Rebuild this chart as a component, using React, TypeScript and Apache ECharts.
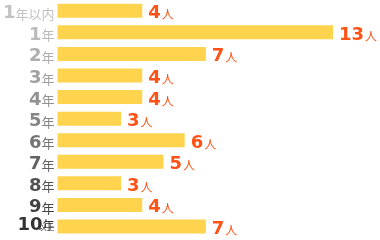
import React, { useEffect, useRef } from "react";
import * as echarts from "echarts";

const categories = ["1年以内", "1年", "2年", "3年", "4年", "5年", "6年", "7年", "8年", "9年", "10年以上"];
const values = [4, 13, 7, 4, 4, 3, 6, 5, 3, 4, 7];
const unitLabel = "人";
const labelColors = ["#c2c2c2", "#bbbbbb", "#adadad", "#a0a0a0", "#929292", "#858585", "#747474", "#636363", "#525252", "#424242", "#333333"];

const DIGIT_FONT = "'DejaVu Sans', Verdana, sans-serif";
const CJK_FONT = "'Noto Sans CJK JP', sans-serif";

export default function App() {
  const ref = useRef<HTMLDivElement>(null);
  useEffect(() => {
    if (!ref.current) return;
    const chart = echarts.init(ref.current, undefined, { renderer: "svg" });
    const last = labelColors.length - 1;
    const rich: Record<string, any> = {
      sp: { fontSize: 1, lineHeight: 6 },
    };
    labelColors.forEach((c, i) => {
      if (i === last) {
        rich["n" + i] = { fontFamily: DIGIT_FONT, fontWeight: "bold", fontSize: 18, color: c, lineHeight: 20 };
        rich["u" + i] = { fontFamily: CJK_FONT, fontSize: 12, color: c, lineHeight: 14, padding: [4, 0, 2, 0] };
      } else {
        rich["n" + i] = { fontFamily: DIGIT_FONT, fontWeight: "bold", fontSize: 18, color: c, lineHeight: 20, verticalAlign: "bottom" };
        rich["u" + i] = { fontFamily: CJK_FONT, fontSize: 13, color: c, lineHeight: 20, verticalAlign: "bottom", padding: [0, 0, 1, 0] };
      }
    });
    const split = (v: string) => {
      const m = v.match(/^(\d+)(.*)$/);
      if (!m) return { num: "", unit: v, extra: "" };
      let unit = m[2];
      let extra = "";
      if (unit.endsWith("以上")) {
        unit = unit.slice(0, -2);
        extra = "以上";
      }
      return { num: m[1], unit, extra };
    };
    chart.setOption({
      animation: false,
      grid: { left: 54, right: 47, top: -1, height: 238.3, containLabel: false },
      xAxis: { type: "value", min: 0, max: 13, show: false },
      yAxis: [
        {
          type: "category",
          data: categories,
          inverse: true,
          axisLine: { show: false },
          axisTick: { show: false },
          axisLabel: {
            margin: 3,
            interval: 0,
            hideOverlap: false,
            formatter: (v: string, i: number) => {
              const { num, unit, extra } = split(v);
              const main = `{n${i}|${num}}{u${i}|${unit}}`;
              return extra ? `${main}\n{sp| }` : main;
            },
            rich,
          },
        },
        {
          type: "category",
          data: categories,
          inverse: true,
          position: "left",
          axisLine: { show: false },
          axisTick: { show: false },
          axisLabel: {
            margin: 3,
            interval: 0,
            hideOverlap: false,
            formatter: (v: string) => split(v).extra,
            fontFamily: CJK_FONT,
            fontSize: 8,
            lineHeight: 9,
            color: labelColors[last],
            padding: [4, 0, 0, 0],
          },
        },
      ],
      series: [
        {
          type: "bar",
          yAxisIndex: 0,
          data: values,
          barWidth: 14,
          itemStyle: { color: "#fed34d" },
          label: {
            show: true,
            position: "right",
            distance: 6,
            formatter: (p: any) => `{n|${p.value}}{u|${unitLabel}}`,
            rich: {
              n: { fontFamily: DIGIT_FONT, fontWeight: "bold", fontSize: 18, color: "#ff5216", lineHeight: 20, verticalAlign: "bottom" },
              u: { fontFamily: CJK_FONT, fontSize: 12, color: "#ff5216", lineHeight: 20, verticalAlign: "bottom", padding: [0, 0, 1, 1] },
            },
          },
        },
      ],
    });
    return () => chart.dispose();
  }, []);
  return <div ref={ref} style={{ position: "fixed", left: 0, top: 0, width: 380, height: 240 }} />;
}
